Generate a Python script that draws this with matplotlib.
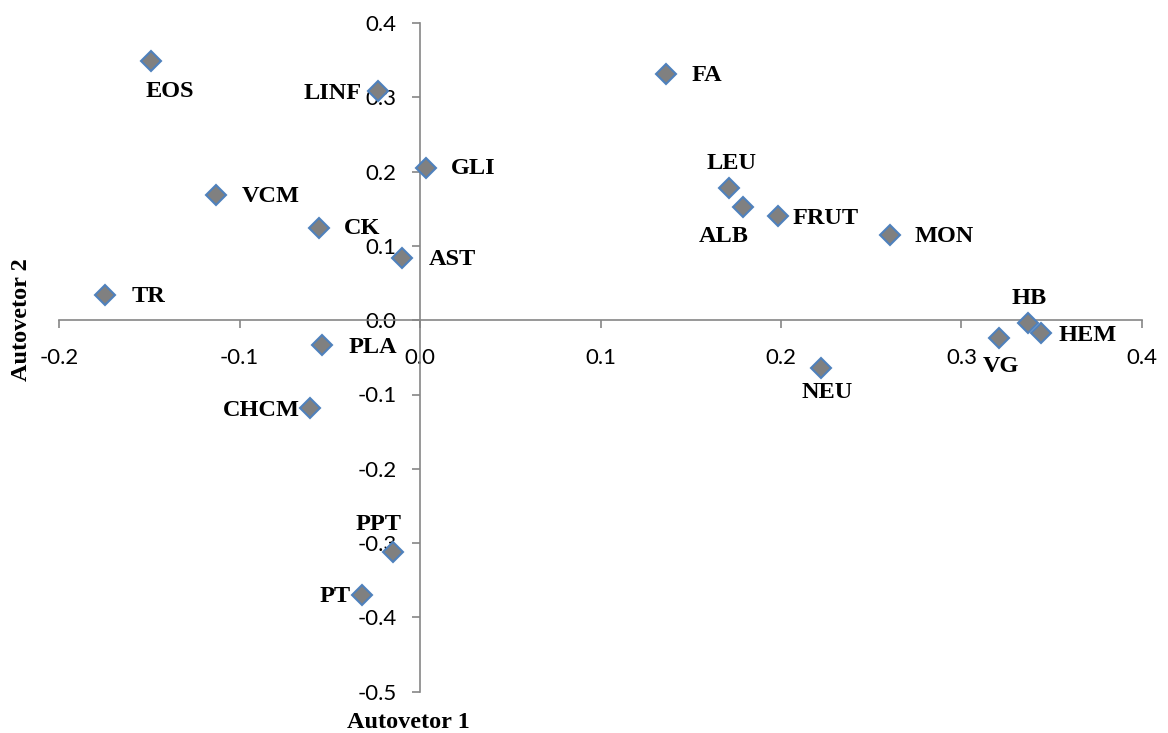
"""plot.py

Autovetor 1 x Autovetor 2 -- scatter of variable loadings (Excel style, axes crossing at origin)

-- output  out.png
"""

import matplotlib.pyplot as plt
from matplotlib.ticker import FormatStrFormatter


# loadings
names = ["EOS", "LINF", "FA", "GLI", "VCM", "CK", "AST", "TR", "PLA", "LEU",
         "ALB", "FRUT", "MON", "HB", "HEM", "VG", "NEU", "CHCM", "PPT", "PT"]
autovetor1 = [-0.1492, -0.0234, 0.1363, 0.0032, -0.1130, -0.0560, -0.0098, -0.1743, -0.0541, 0.1711,
              0.1791, 0.1981, 0.2603, 0.3370, 0.3442, 0.3209, 0.2221, -0.0609, -0.0151, -0.0320]
autovetor2 = [0.3484, 0.3082, 0.3309, 0.2054, 0.1691, 0.1242, 0.0838, 0.0345, -0.0336, 0.1780,
              0.1524, 0.1399, 0.1143, -0.0036, -0.0175, -0.0246, -0.0641, -0.1187, -0.3116, -0.3699]
x_ticks = [-0.2, -0.1, 0.0, 0.1, 0.2, 0.3, 0.4]
y_ticks = [-0.5, -0.4, -0.3, -0.2, -0.1, 0.0, 0.1, 0.2, 0.3, 0.4]

# where each label sits relative to its marker: (dx px, dy px, horizontal alignment)
label_place = {
    "EOS": (19, -30, "center"), "LINF": (-16, -2, "right"), "FA": (26, -1, "left"),
    "GLI": (25, -1, "left"), "VCM": (26, -2, "left"), "CK": (25, -1, "left"),
    "AST": (26, -2, "left"), "TR": (26, -2, "left"), "PLA": (26, -2, "left"),
    "LEU": (3, 24, "center"), "ALB": (-20, -30, "center"), "FRUT": (15, -2, "left"),
    "MON": (25, -1, "left"), "HB": (1, 24, "center"), "HEM": (17, -2, "left"),
    "VG": (2, -28, "center"), "NEU": (6, -25, "center"), "CHCM": (-10, -2, "right"),
    "PPT": (-14, 27, "center"), "PT": (-12, -1, "right"),
}

AXIS_GRAY = "#868686"
SERIF = ["Liberation Serif", "DejaVu Serif"]

fig = plt.figure(figsize=(11.68, 7.33), dpi=100)
ax = fig.add_axes([59 / 1168, 1 - 691.7 / 733, (1142 - 59) / 1168, (691.7 - 23) / 733])

ax.plot(autovetor1, autovetor2, linestyle="none", marker="D", markersize=10.5,
        markerfacecolor="#808080", markeredgecolor="#4F81BD", markeredgewidth=1.5, zorder=3)

for name, xv, yv in zip(names, autovetor1, autovetor2):
    dx, dy, ha = label_place[name]
    ax.annotate(name, (xv, yv), xytext=(dx, dy), textcoords="offset pixels",
                ha=ha, va="center", fontsize=17.5, fontweight="bold", family=SERIF,
                color="black", zorder=4)

ax.set_xlim(-0.2, 0.4)
ax.set_ylim(-0.5, 0.4)
ax.set_xticks(x_ticks)
ax.set_yticks(y_ticks)
ax.xaxis.set_major_formatter(FormatStrFormatter("%.1f"))
ax.yaxis.set_major_formatter(FormatStrFormatter("%.1f"))

# axes cross at the origin, like the Excel original
for side in ["top", "right"]:
    ax.spines[side].set_visible(False)
ax.spines["left"].set_position(("data", 0))
ax.spines["bottom"].set_position(("data", 0))
for side in ["left", "bottom"]:
    ax.spines[side].set_color(AXIS_GRAY)
    ax.spines[side].set_linewidth(1.2)

ax.tick_params(axis="both", direction="out", length=6, width=1.2, color=AXIS_GRAY,
               labelsize=16, labelcolor="black")
ax.tick_params(axis="x", pad=14)
ax.tick_params(axis="y", pad=11)
for lab in ax.get_xticklabels() + ax.get_yticklabels():
    lab.set_family(["Lato", "DejaVu Sans"])

fig.text(408 / 1168, 1 - 722 / 733, "Autovetor 1", ha="center", va="center",
         fontsize=17.5, fontweight="bold", family=SERIF)
fig.text(22 / 1168, 1 - 320 / 733, "Autovetor 2", ha="center", va="center", rotation=90,
         fontsize=17.5, fontweight="bold", family=SERIF)

fig.savefig("out.png", dpi=100)
